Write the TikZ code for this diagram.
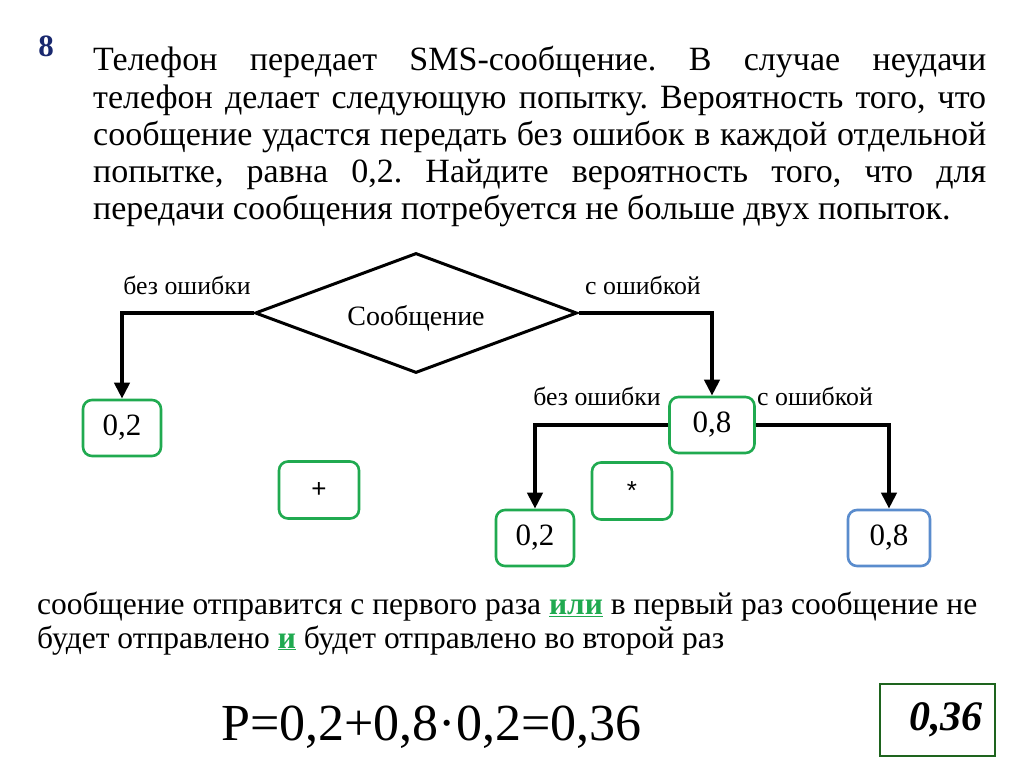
\documentclass[tikz,border=0pt]{standalone}
\usepackage{fontspec}
\setmainfont{Liberation Serif}
\newfontfamily\sansf{Liberation Sans}
\usetikzlibrary{shapes.geometric,arrows.meta}
\definecolor{boxgreen}{RGB}{32,170,80}
\definecolor{boxblue}{RGB}{90,140,205}
\definecolor{ansgreen}{RGB}{30,100,30}
\definecolor{navy}{RGB}{25,40,110}
\tikzset{
  valbox/.style={draw=boxgreen,line width=2.6pt,rounded corners=9pt,minimum width=78pt,minimum height=56pt,inner sep=0pt,font=\fontsize{31}{33}\selectfont},
  opbox/.style={valbox,minimum width=80pt,minimum height=57pt,font=\sansf\fontsize{26}{28}\selectfont},
  lbl/.style={font=\fontsize{25.8}{27}\selectfont,inner sep=0pt},
  arr/.style={line width=4pt,-{Triangle[length=16pt,width=15pt]}},
}
\newcommand{\low}[1]{\raisebox{-2.5pt}{#1}}
\begin{document}
\begin{tikzpicture}[x=1pt,y=-1pt]
\useasboundingbox (0,0) rectangle (1024,767);
\node[anchor=base,text=navy,font=\bfseries\fontsize{31}{33}\selectfont,inner sep=0pt] (num) at (46,57) {8};
\node[anchor=base west,inner sep=0pt] (task) at (93,71) {\parbox[t]{893pt}{\frenchspacing\fontsize{34}{37.2}\selectfont
Телефон передает SMS-сообщение. В случае неудачи\linebreak
телефон делает следующую попытку. Вероятность того, что\linebreak
сообщение удастся передать без ошибок в каждой отдельной\linebreak
попытке, равна 0,2. Найдите вероятность того, что для\linebreak
передачи сообщения потребуется не больше двух попыток.}};
\node[diamond,draw,line width=3pt,minimum width=322pt,minimum height=120pt,aspect=2.68,inner sep=0pt] (msg) at (416,313) {};
\node[inner sep=0pt,font=\fontsize{28}{30}\selectfont] (msgt) at (416,318) {Сообщение};
\node[valbox] (a) at (122,428) {\low{0,2}};
\node[valbox,minimum width=85pt] (b) at (712,425) {\low{0,8}};
\node[valbox] (c) at (535,538) {\low{0,2}};
\node[valbox,draw=boxblue,minimum width=82pt] (d) at (889,538) {\low{0,8}};
\node[opbox] (plus) at (319,490) {+};
\node[opbox] (star) at (632,491) {*};
\draw[arr] (msg.west) -| (a.north);
\draw[arr] (msg.east) -| (b.north);
\draw[arr] (b.west) -| (c.north);
\draw[arr] (b.east) -| (d.north);
\node[lbl] (l1) at (187,285) {без ошибки};
\node[lbl] (l2) at (643,285) {с ошибкой};
\node[lbl] (l3) at (597,396) {без ошибки};
\node[lbl] (l4) at (815,396) {с ошибкой};
\node[anchor=base west,inner sep=0pt,font=\fontsize{31.5}{34}\selectfont] (t1) at (37,614) {сообщение отправится с первого раза \textcolor{boxgreen}{\bfseries\underline{или}} в первый раз сообщение не};
\node[anchor=base west,inner sep=0pt,font=\fontsize{31.5}{34}\selectfont] (t2) at (37,648) {будет отправлено \textcolor{boxgreen}{\bfseries\underline{и}} будет отправлено во второй раз};
\node[anchor=base west,inner sep=0pt,font=\fontsize{52}{54}\selectfont] (f) at (221,740) {P=0,2+0,8·0,2=0,36};
\node[draw=ansgreen,line width=2pt,minimum width=115pt,minimum height=72pt,inner sep=0pt] (ans) at (937,720) {};
\node[inner sep=0pt,font=\bfseries\itshape\fontsize{42}{44}\selectfont] (anst) at (946,720) {0,36};
\end{tikzpicture}
\end{document}
